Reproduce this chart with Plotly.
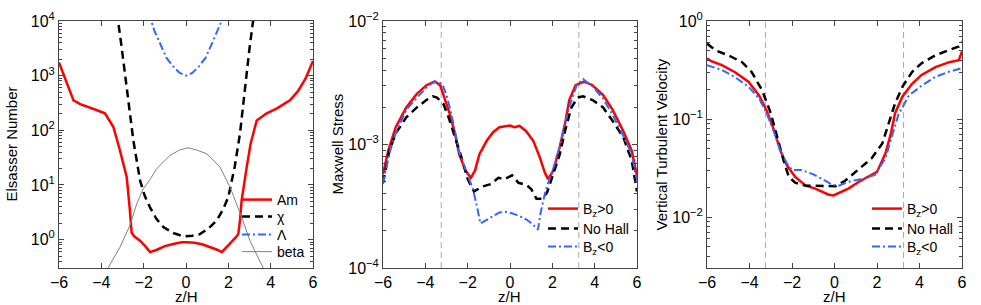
import numpy as np
import plotly.graph_objects as go

# ---------------- data (values are log10 of the quantity) ----------------
# Panel 1: Elsasser numbers
z_am = [-6.0, -5.75, -5.5, -5.32, -5.0, -4.69, -4.3, -3.83, -3.43, -3.12, -2.95, -2.8, -2.65, -2.57,
        -2.45, -2.17, -1.95, -1.7, -1.4, -1.0, -0.6, -0.2, 0.03, 0.4, 0.8, 1.2, 1.5, 1.69, 1.9, 2.15,
        2.35, 2.47, 2.55, 2.63, 2.75, 2.87, 3.05, 3.34, 3.81, 4.3, 4.91, 5.3, 5.65, 6.0]
am_log10 = [3.24, 2.98, 2.70, 2.55, 2.48, 2.43, 2.38, 2.31, 2.06, 1.63, 1.36, 1.14, 0.53, 0.13,
            0.06, -0.02, -0.11, -0.23, -0.19, -0.12, -0.08, -0.05, -0.05, -0.06, -0.09, -0.14, -0.19,
            -0.23, -0.15, -0.04, 0.04, 0.10, 0.35, 0.72, 1.05, 1.33, 1.75, 2.18, 2.31, 2.40, 2.55,
            2.72, 2.95, 3.27]

z_chi = [-3.3, -3.21, -3.05, -2.9, -2.72, -2.49, -2.17, -1.95, -1.7, -1.4, -1.07, -0.6, -0.13, 0.3,
         0.66, 1.05, 1.45, 1.75, 2.0, 2.3, 2.55, 2.7, 2.85, 3.0, 3.17, 3.3]
chi_log10 = [4.4, 4.0, 3.55, 3.1, 2.55, 1.82, 1.08, 0.80, 0.59, 0.38, 0.23, 0.12, 0.06, 0.07,
             0.10, 0.20, 0.35, 0.55, 0.78, 1.33, 1.94, 2.5, 3.0, 3.5, 4.0, 4.4]

z_lam = [-1.8, -1.64, -1.5, -1.24, -0.93, -0.61, -0.3, 0.0, 0.3, 0.61, 0.93, 1.24, 1.5, 1.72, 1.85]
lam_log10 = [4.15, 4.0, 3.83, 3.60, 3.33, 3.17, 3.05, 3.0, 3.05, 3.17, 3.33, 3.60, 3.83, 4.0, 4.15]

z_beta = [-4.0, -3.67, -3.12, -2.65, -2.33, -2.02, -1.7, -1.38, -0.76, -0.3, 0.1, 0.5, 0.98,
          1.6, 2.08, 2.63, 3.02, 3.65, 4.0]
beta_log10 = [-0.80, -0.51, -0.14, 0.26, 0.65, 0.93, 1.10, 1.30, 1.54, 1.64, 1.68, 1.64, 1.57,
              1.33, 0.96, 0.41, -0.02, -0.51, -0.80]

# Panel 2: Maxwell stress
z_ms_pos = [-6.0, -5.75, -5.4, -4.9, -4.4, -3.95, -3.55, -3.3, -3.1, -2.85, -2.6, -2.4, -2.1, -1.85,
            -1.65, -1.45, -1.1, -0.8, -0.5, -0.2, 0.0, 0.2, 0.45, 0.75, 1.1, 1.4, 1.65, 1.8, 2.05,
            2.35, 2.6, 2.8, 3.1, 3.5, 3.9, 4.4, 4.85, 5.35, 5.75, 6.0]
ms_pos_log10 = [-3.24, -3.05, -2.86, -2.70, -2.59, -2.52, -2.49, -2.52, -2.62, -2.75, -2.91, -3.08,
                -3.21, -3.27, -3.21, -3.08, -2.97, -2.90, -2.86, -2.855, -2.847, -2.86, -2.85, -2.89,
                -2.97, -3.10, -3.23, -3.28, -3.21, -3.02, -2.83, -2.64, -2.52, -2.49, -2.52, -2.60,
                -2.72, -2.89, -3.05, -3.25]

z_ms_nohall = [-6.0, -5.7, -5.4, -4.9, -4.4, -3.95, -3.65, -3.45, -3.15, -2.9, -2.6, -2.3, -2.0,
               -1.7, -1.3, -0.9, -0.55, -0.25, 0.1, 0.4, 0.8, 1.0, 1.25, 1.5, 1.75, 2.05, 2.35,
               2.6, 2.9, 3.2, 3.45, 3.9, 4.4, 4.85, 5.35, 5.75, 6.0]
ms_nohall_log10 = [-3.31, -3.05, -2.91, -2.78, -2.70, -2.64, -2.61, -2.62, -2.67, -2.78, -2.94,
                   -3.10, -3.28, -3.38, -3.34, -3.32, -3.27, -3.28, -3.25, -3.31, -3.33, -3.36,
                   -3.44, -3.44, -3.39, -3.24, -3.08, -2.89, -2.70, -2.62, -2.61, -2.64, -2.70,
                   -2.81, -2.94, -3.13, -3.38]

z_ms_neg = [-6.0, -5.7, -5.4, -4.9, -4.4, -3.95, -3.65, -3.45, -3.2, -3.0, -2.8, -2.6, -2.4, -2.0,
            -1.75, -1.55, -1.4, -1.1, -0.8, -0.5, -0.2, 0.15, 0.45, 0.8, 1.1, 1.32, 1.45, 1.7, 2.0,
            2.35, 2.6, 2.85, 3.15, 3.45, 3.9, 4.4, 4.85, 5.35, 5.75, 6.0]
ms_neg_log10 = [-3.32, -3.07, -2.91, -2.72, -2.62, -2.54, -2.50, -2.49, -2.51, -2.60, -2.73, -2.90,
                -3.06, -3.25, -3.36, -3.51, -3.64, -3.61, -3.58, -3.55, -3.545, -3.56, -3.58,
                -3.61, -3.65, -3.69, -3.55, -3.36, -3.22, -3.02, -2.83, -2.67, -2.52, -2.47,
                -2.53, -2.63, -2.76, -2.93, -3.08, -3.29]

# Panel 3: vertical turbulent velocity
z_vz_pos = [-6.0, -5.8, -5.3, -4.7, -4.05, -3.55, -3.2, -2.85, -2.55, -2.25, -1.85, -1.35, -0.9,
            -0.6, -0.3, -0.05, 0.25, 0.65, 1.15, 1.6, 2.0, 2.4, 2.65, 2.85, 3.2, 3.65, 4.1, 4.75,
            5.4, 5.85, 6.0]
vz_pos_log10 = [-0.38, -0.41, -0.45, -0.52, -0.62, -0.76, -0.91, -1.11, -1.32, -1.47, -1.59, -1.68,
                -1.71, -1.74, -1.77, -1.78, -1.75, -1.71, -1.64, -1.59, -1.54, -1.35, -1.15, -0.94,
                -0.77, -0.64, -0.55, -0.47, -0.42, -0.40, -0.31]

z_vz_nohall = [-6.0, -5.6, -5.0, -4.35, -3.9, -3.4, -3.0, -2.7, -2.4, -2.15, -1.85, -1.35, -0.6,
               0.05, 0.5, 1.15, 1.75, 2.25, 2.55, 2.85, 3.2, 3.65, 4.1, 4.75, 5.35, 5.85, 6.0]
vz_nohall_log10 = [-0.23, -0.30, -0.35, -0.42, -0.52, -0.71, -0.94, -1.18, -1.42, -1.59, -1.65,
                   -1.68, -1.685, -1.685, -1.63, -1.51, -1.40, -1.25, -1.05, -0.84, -0.67, -0.52,
                   -0.43, -0.35, -0.30, -0.26, -0.21]

z_vz_neg = [-6.0, -5.3, -4.7, -4.05, -3.55, -3.2, -2.85, -2.55, -2.25, -2.0, -1.55, -1.05, -0.6,
            -0.1, 0.2, 0.65, 1.3, 1.9, 2.4, 2.7, 3.0, 3.5, 4.1, 4.75, 5.35, 6.0]
vz_neg_log10 = [-0.45, -0.50, -0.57, -0.67, -0.79, -0.94, -1.13, -1.32, -1.45, -1.52, -1.52, -1.56,
                -1.61, -1.67, -1.68, -1.64, -1.61, -1.57, -1.40, -1.18, -0.96, -0.76, -0.66,
                -0.57, -0.52, -0.48]

# dashed reference lines (z/H) in panels 2 and 3
z_marks = [-3.25, 3.25]

x_ticks = [-6, -4, -2, 0, 2, 4, 6]

panel_titles_y = ["Elsasser Number", "Maxwell Stress", "Vertical Turbulent Velocity"]
x_title = "z/H"

# ---------------- figure ----------------
W, H = 981, 305
FONT = "Liberation Sans, Arial, Helvetica, sans-serif"
RED, BLACK, BLUE, GRAY = "#ff0000", "#000000", "#3366ff", "#808080"
DASH = "8px,5px"
DASHDOT = "8px,3px,2px,3px"

# plot-area pixel boxes (left, right) and common top/bottom
PANELS = [(59, 313), (383, 637), (707, 962)]
TOP, BOT = 21, 268


def v(a):
    return np.power(10.0, np.array(a))


fig = go.Figure()

series = [
    # (x, y, name, color, width, dash, axis suffix, legend id, legend row y px, legend line x px)
    (z_am, am_log10, "Am", RED, 2.5, None, "", "legend", 200, 243),
    (z_chi, chi_log10, "χ", BLACK, 2.5, DASH, "", "legend4", 217, 243),
    (z_lam, lam_log10, "Λ", BLUE, 2, DASHDOT, "", "legend5", 235, 243),
    (z_beta, beta_log10, "beta", GRAY, 1, None, "", "legend6", 252, 243),
    (z_ms_pos, ms_pos_log10, "B<sub>z</sub>>0", RED, 2.5, None, "2", "legend2", 209, 549),
    (z_ms_nohall, ms_nohall_log10, "No Hall", BLACK, 2.5, DASH, "2", "legend7", 229, 549),
    (z_ms_neg, ms_neg_log10, "B<sub>z</sub>&lt;0", BLUE, 2, DASHDOT, "2", "legend8", 247, 549),
    (z_vz_pos, vz_pos_log10, "B<sub>z</sub>>0", RED, 2.5, None, "3", "legend3", 209, 873),
    (z_vz_nohall, vz_nohall_log10, "No Hall", BLACK, 2.5, DASH, "3", "legend9", 229, 873),
    (z_vz_neg, vz_neg_log10, "B<sub>z</sub>&lt;0", BLUE, 2, DASHDOT, "3", "legend10", 247, 873),
]

leg_common = dict(xanchor="left", yanchor="middle", bgcolor="rgba(0,0,0,0)", borderwidth=0,
                  font=dict(family=FONT, size=14, color="black"), itemwidth=30)
legends = {}
for (xs, ys, name, col, wd, dash, ax, leg, row_y, line_x) in series:
    ln = dict(color=col, width=wd)
    if dash:
        ln["dash"] = dash
    fig.add_trace(go.Scatter(x=xs, y=v(ys), mode="lines", name=name, line=ln,
                             xaxis="x" + ax, yaxis="y" + ax, legend=leg))
    legends[leg] = dict(x=(line_x - 6) / W, y=1 - row_y / H, **leg_common)

# dashed vertical markers
for xr, yr in (("x2", "y2 domain"), ("x3", "y3 domain")):
    for zm in z_marks:
        fig.add_shape(type="line", xref=xr, yref=yr, x0=zm, x1=zm, y0=0, y1=1,
                      line=dict(color="#aaaaaa", width=1, dash="6px,4px"), layer="below")

AXC = "#444444"


def xaxis_cfg(x0, x1, anchor):
    return dict(domain=[x0 / W, x1 / W], anchor=anchor, range=[-6, 6], tickmode="array",
                tickvals=x_ticks, ticks="inside", ticklen=5, tickcolor=AXC, showline=True,
                linecolor=AXC, linewidth=1, mirror="allticks", showgrid=False, zeroline=False,
                automargin=False, tickfont=dict(family=FONT, size=16, color="black"))


def yaxis_cfg(lo, hi, anchor):
    decades = list(range(int(np.ceil(lo)), int(np.floor(hi)) + 1))
    tv = [10.0 ** d for d in decades]
    tt = ["10<sup>%s</sup>" % (str(d) if d >= 0 else "\u2212" + str(-d)) for d in decades]
    minor_vals = [m * 10.0 ** d for d in range(int(np.floor(lo)), int(np.ceil(hi)))
                  for m in range(2, 10)]
    return dict(type="log", domain=[1 - BOT / H, 1 - TOP / H], anchor=anchor, range=[lo, hi],
                tickmode="array", tickvals=tv, ticktext=tt, ticks="inside", ticklen=5,
                tickcolor=AXC, showline=True, linecolor=AXC, linewidth=1, mirror="allticks",
                showgrid=False, zeroline=False, automargin=False,
                minor=dict(tickmode="array", tickvals=minor_vals, ticks="inside", ticklen=3,
                           tickcolor=AXC, showgrid=False),
                tickfont=dict(family=FONT, size=16, color="black"))


annotations = []
ytitle_x = [11, 337, 661]
for (x0, x1), t, tx in zip(PANELS, panel_titles_y, ytitle_x):
    annotations.append(dict(text=x_title, x=(x0 + x1) / 2 / W, y=1 - 296 / H, xref="paper",
                            yref="paper", xanchor="center", yanchor="middle", showarrow=False,
                            font=dict(family=FONT, size=15, color="black")))
    annotations.append(dict(text=t, x=tx / W, y=1 - (TOP + BOT) / 2 / H, xref="paper",
                            yref="paper", xanchor="center", yanchor="middle", showarrow=False,
                            textangle=-90, font=dict(family=FONT, size=15, color="black")))

fig.update_layout(
    template="none",
    width=W, height=H, margin=dict(l=0, r=0, t=0, b=0, autoexpand=False),
    paper_bgcolor="white", plot_bgcolor="white",
    font=dict(family=FONT, color="black"),
    xaxis=xaxis_cfg(*PANELS[0], "y"), yaxis=yaxis_cfg(-0.52, 4, "x"),
    xaxis2=xaxis_cfg(*PANELS[1], "y2"), yaxis2=yaxis_cfg(-4, -2, "x2"),
    xaxis3=xaxis_cfg(*PANELS[2], "y3"), yaxis3=yaxis_cfg(-2.52, 0, "x3"),
    annotations=annotations,
    showlegend=True,
    **legends,
)

fig.write_html("out.html", config={"displayModeBar": False},
               post_script="document.body.style.margin='0px';")
